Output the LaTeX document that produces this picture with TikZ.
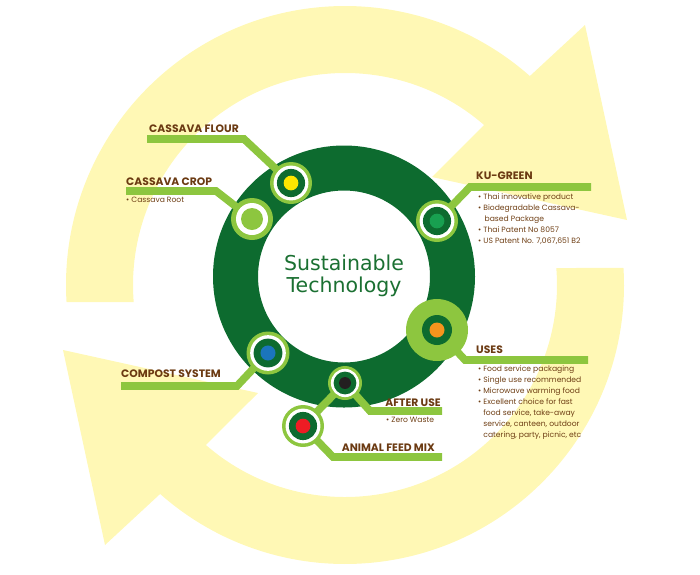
\documentclass[tikz,border=0pt]{standalone}
\usepackage{fontspec}
\setmainfont{Poppins}
\newfontfamily\hubfont{DejaVu Sans}
\usepackage{xcolor}
\usetikzlibrary{backgrounds, calc}

\definecolor{paleyellow}{HTML}{FFF8B5}
\definecolor{leafgreen}{HTML}{8DC63F}
\definecolor{ringgreen}{HTML}{0D6B2F}
\definecolor{titlegreen}{HTML}{1B7032}
\definecolor{labelbrown}{HTML}{6B3A12}
\definecolor{notebrown}{HTML}{6E3E14}
\definecolor{dotyellow}{HTML}{FFE600}
\definecolor{dotgreen}{HTML}{18A050}
\definecolor{dotorange}{HTML}{F7941D}
\definecolor{dotblue}{HTML}{1B75BC}
\definecolor{dotblack}{HTML}{231F20}
\definecolor{dotred}{HTML}{ED1C24}

\begin{document}
\begin{tikzpicture}[
    x=0.03cm, y=-0.03cm,
    link/.style={leafgreen, line width=6.5pt},
    marker/.style 2 args={circle, inner sep=0pt, minimum size=2*#2*0.03cm, fill=leafgreen,
        path picture={
            \fill[white] (path picture bounding box.center) circle (0.83*#2);
            \fill[ringgreen] (path picture bounding box.center) circle (0.67*#2);
            \fill[#1] (path picture bounding box.center) circle (0.35*#2);}},
    cropmark/.style={circle, inner sep=0pt, minimum size=1.26cm, fill=leafgreen,
        path picture={
            \fill[white] (path picture bounding box.center) circle (16);
            \fill[leafgreen] (path picture bounding box.center) circle (11);}},
    usesmark/.style={circle, inner sep=0pt, minimum size=1.86cm, fill=leafgreen,
        path picture={
            \fill[ringgreen] (path picture bounding box.center) circle (15);
            \fill[dotorange] (path picture bounding box.center) circle (7.5);}},
    title/.style={font=\bfseries\fontsize{9.2}{11}\selectfont, text=labelbrown, inner sep=0pt},
    notes/.style={font=\fontsize{6.5}{9.5}\selectfont, text=notebrown, inner sep=0pt, align=left, anchor=north west}
]
\useasboundingbox (0,0) rectangle (700,574);

% Cycle arrows
\begin{scope}[on background layer]
\foreach \turn in {0,180}{
  \begin{scope}[shift={(345,285)}, rotate=\turn]
    \fill[paleyellow] (-183.5:279) arc[start angle=-183.5, end angle=-48.5, radius=279]
      -- (240,-260) -- (282,-65) -- (87,-108) -- (-49:212)
      arc[start angle=-49, end angle=-184.6, radius=212] -- cycle;
  \end{scope}
}
% Ring
\fill[ringgreen, even odd rule] (344,276.5) circle (131) circle (86);
\end{scope}

% Centre
\node[font=\hubfont\fontsize{17.5}{19}\selectfont, text=titlegreen, align=center] (hub) at (344,276) {Sustainable\\Technology};

% Markers
\node[marker={dotyellow}{21}] (flour) at (291,183) {};
\node[cropmark] (crop) at (252,219) {};
\node[marker={dotgreen}{21}] (kugreen) at (437,221) {};
\node[usesmark] (uses) at (437,330) {};
\node[marker={dotblue}{21.5}] (compost) at (268,353) {};
\node[marker={dotblack}{17}] (afteruse) at (345,383) {};
\node[marker={dotred}{21}] (feed) at (303,426) {};

% Bends and bar ends
\coordinate (flourbend) at (244,139);  \coordinate (flourend) at (147,139);
\coordinate (cropbend) at (216,191);   \coordinate (cropend) at (126,191);
\coordinate (kubend) at (470,187);     \coordinate (kuend) at (591,187);
\coordinate (usesbend) at (465,360);   \coordinate (usesend) at (588,360);
\coordinate (compbend) at (237,386);   \coordinate (compend) at (121,386);
\coordinate (afterbend) at (370,411);  \coordinate (afterend) at (442,411);
\coordinate (feedbend) at (333,457);   \coordinate (feedend) at (442,457);

% Links
\begin{scope}[on background layer]
\draw[link] (flour.center) -- (flourbend) -- (flourend);
\draw[link] (crop.center) -- (cropbend) -- (cropend);
\draw[link] (kugreen.center) -- (kubend) -- (kuend);
\draw[link] (uses.center) -- (usesbend) -- (usesend);
\draw[link] (compost.center) -- (compbend) -- (compend);
\draw[link] (afteruse.center) -- (afterbend) -- (afterend);
\draw[link] (feed.center) -- (feedbend) -- (feedend);
\draw[link] (afteruse.center) -- (feed.center);
\end{scope}

% Titles
\node[title, anchor=base west] (flourtitle) at (149,132) {CASSAVA FLOUR};
\node[title, anchor=base west] (croptitle) at (126,185) {CASSAVA CROP};
\node[title, anchor=base west] (kutitle) at (476,179) {KU-GREEN};
\node[title, anchor=base west] (usestitle) at (476,353) {USES};
\node[title, anchor=base west] (comptitle) at (121,377) {COMPOST SYSTEM};
\node[title, anchor=base east] (aftertitle) at (441,406) {AFTER USE};
\node[title, anchor=base east] (feedtitle) at (435,451) {ANIMAL FEED MIX};

% Notes
\node[notes] (cropnotes) at (126,197) {• Cassava Root};
\node[notes] (kunotes) at (478,193) {• Thai innovative product\\• Biodegradable Cassava-\\\phantom{•\ }\,based Package\\• Thai Patent No 8057\\• US Patent No. 7,067,651 B2};
\node[notes] (usesnotes) at (478,365) {• Food service packaging\\• Single use recommended\\• Microwave warming food\\• Excellent choice for fast\\\phantom{•\ }food service, take-away\\\phantom{•\ }service, canteen, outdoor\\\phantom{•\ }catering, party, picnic, etc};
\node[notes] (afternotes) at (386,417) {• Zero Waste};
\end{tikzpicture}
\end{document}
